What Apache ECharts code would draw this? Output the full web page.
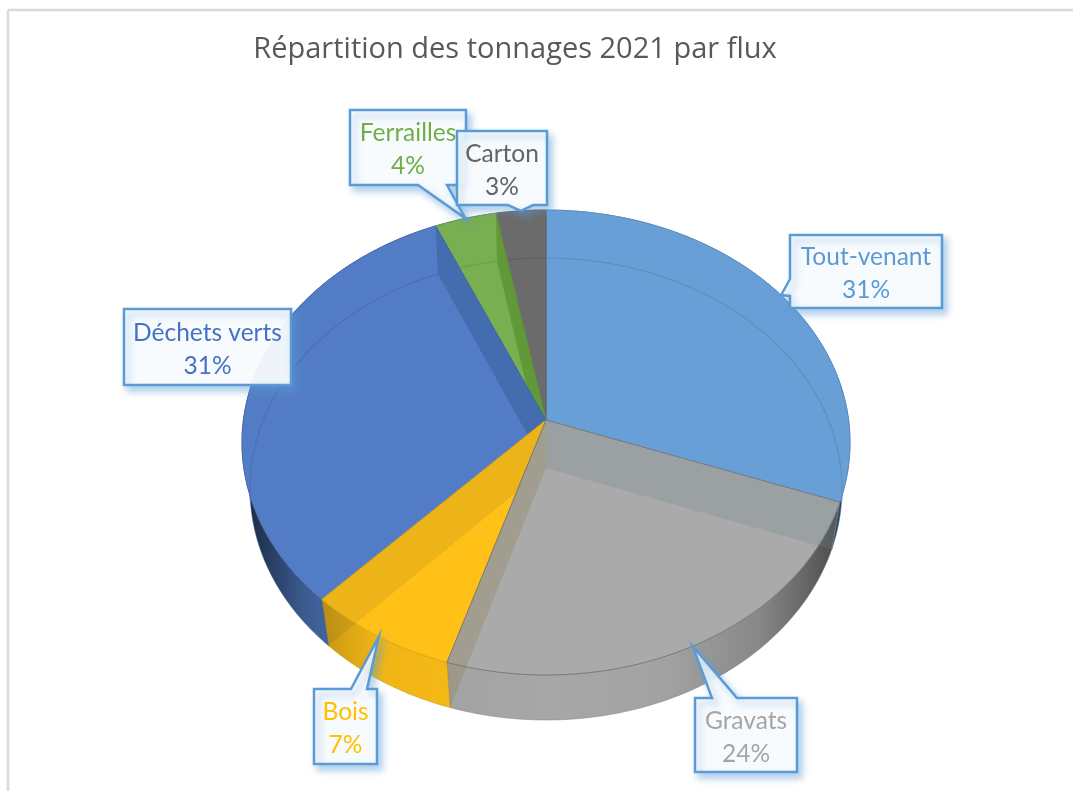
<!DOCTYPE html>
<html>
<head>
<meta charset="utf-8">
<style>html,body{margin:0;padding:0;background:#fff}#c{width:1073px;height:791px}</style>
<script src="https://cdn.jsdelivr.net/npm/echarts@6/dist/echarts.min.js"></script>
</head>
<body>
<div id="c"></div>
<script>
// ---- data ----
const chartTitle = 'Répartition des tonnages 2021 par flux';
const categories = ['Tout-venant', 'Gravats', 'Bois', 'Déchets verts', 'Ferrailles', 'Carton'];
const tonnageShare = [30.6, 24.2, 7.3, 31.4, 3.6, 2.9];

// ---- styles ----
const faceColors = ['#689fd7', '#aaaaaa', '#ffc117', '#527dc6', '#78af50', '#6b6b6b'];
const labelColors = ['#5b9bd5', '#a5a5a5', '#ffc000', '#4472c4', '#70ad47', '#636363'];
const edgeShade = [0.9, 0.72, 0.88, 0.88, 0.88, 0.88];
// painter order of the slices, front ones last so they hide what lies behind
const paintOrder = [0, 5, 4, 3, 2, 1];
// radial walls seen through each transparent face: [boundary slice, tint]
const seenWalls = [
  [],
  [[1, 'rgba(110,130,142,0.25)'], [2, 'rgba(125,112,40,0.2)']],
  [[3, 'rgba(60,50,60,0.09)']],
  [[4, 'rgba(30,70,110,0.28)']],
  [[5, 'rgba(50,110,10,0.32)']],
  []
];

// ---- layout ----
const topDisc = { cx: 546, cy: 420, a: 302.6, b: 230.3, k: 0.0968 };
const bottomDisc = { cx: 546, cy: 468, a: 294.8, b: 229.1, k: 0.0909 };
const labelOrder = [0, 1, 2, 3, 4, 5];
const labelBoxes = [
  { x: 790, y: 235, w: 152, h: 73, side: 'left', from: 279, to: 296 },
  { x: 695, y: 698, w: 102, h: 74, side: 'top', from: 712, to: 737 },
  { x: 314, y: 689, w: 63, h: 75, side: 'top', from: 351, to: 367 },
  { x: 124, y: 309, w: 167, h: 76 },
  { x: 350, y: 110, w: 116, h: 75, side: 'bottom', from: 418, to: 447 },
  { x: 457, y: 131, w: 90, h: 74, side: 'bottom', from: 508, to: 533 }
];

// ---- geometry derived from the values ----
const total = tonnageShare.reduce((s, v) => s + v, 0);
const startAngles = [];
tonnageShare.reduce((acc, v, i) => { startAngles[i] = acc; return acc + v / total * 360; }, 0);
const endAngle = i => startAngles[i] + tonnageShare[i] / total * 360;

function project(disc, deg) {
  const t = deg * Math.PI / 180, u = Math.sin(t), v = Math.cos(t), w = 1 + disc.k * v;
  return [disc.cx + disc.a * u / w, disc.cy - disc.b * v / w];
}
function arc(disc, a0, a1) {
  const pts = [], n = Math.max(2, Math.ceil(Math.abs(a1 - a0)));
  for (let j = 0; j <= n; j++) pts.push(project(disc, a0 + (a1 - a0) * j / n));
  return pts;
}
function shade(hex, f) {
  const n = parseInt(hex.slice(1), 16);
  return 'rgb(' + [(n >> 16) & 255, (n >> 8) & 255, n & 255].map(c => Math.round(c * f)).join(',') + ')';
}
function wallFill(hex) {
  const stops = [[0, .32], [.03, .42], [.1, .72], [.22, .94], [.5, .98], [.7, .95], [.85, .8], [.92, .62], [1, .38]];
  return {
    type: 'linear', global: true, x: 242, y: 0, x2: 850, y2: 0,
    colorStops: stops.map(s => ({ offset: s[0], color: shade(hex, s[1]) }))
  };
}

function renderSlice(params) {
  const i = params.dataIndex, a0 = startAngles[i], a1 = endAngle(i);
  const order = paintOrder.indexOf(i), base = 10 + order * 4, color = faceColors[i];
  const children = [];
  // outer wall
  children.push({
    type: 'polygon', z2: 1,
    shape: { points: arc(topDisc, a0, a1).concat(arc(bottomDisc, a1, a0)) },
    style: { fill: wallFill(color), stroke: shade(color, .75), lineWidth: 0.5 }
  });
  // top face
  children.push({
    type: 'polygon', z2: base,
    shape: { points: [[topDisc.cx, topDisc.cy]].concat(arc(topDisc, a0, a1)) },
    style: { fill: color, stroke: shade(color, edgeShade[i]), lineWidth: 1 }
  });
  // radial walls seen through the face
  seenWalls[i].forEach(w => {
    const ang = startAngles[w[0]];
    children.push({
      type: 'polygon', z2: base + 1,
      shape: { points: [[topDisc.cx, topDisc.cy], project(topDisc, ang), project(bottomDisc, ang), [bottomDisc.cx, bottomDisc.cy]] },
      style: { fill: w[1] }
    });
  });
  // back rim of the lower disc seen through the face
  const rim = arc(bottomDisc, a0, a1).filter((p, j, all) => {
    const deg = a0 + (a1 - a0) * j / (all.length - 1);
    return Math.cos(deg * Math.PI / 180) > -0.15;
  });
  if (rim.length > 1) {
    children.push({
      type: 'polyline', z2: base + 2,
      shape: { points: rim },
      style: { fill: null, stroke: shade(color, .9), lineWidth: 1.2 }
    });
  }
  return { type: 'group', children };
}

function renderLabel(params) {
  const i = labelOrder[params.dataIndex], b = labelBoxes[i];
  const r = b.x + b.w, d = b.y + b.h;
  const tip = project(topDisc, (startAngles[i] + endAngle(i)) / 2);
  let pts;
  if (b.side === 'bottom') {
    pts = [[b.x, b.y], [r, b.y], [r, d], [b.to, d], tip, [b.from, d], [b.x, d]];
  } else if (b.side === 'top') {
    pts = [[b.x, b.y], [b.from, b.y], tip, [b.to, b.y], [r, b.y], [r, d], [b.x, d]];
  } else if (b.side === 'left') {
    pts = [[b.x, b.y], [r, b.y], [r, d], [b.x, d], [b.x, b.to], tip, [b.x, b.from]];
  } else {
    pts = [[b.x, b.y], [r, b.y], [r, d], [b.x, d]];
  }
  const pct = Math.round(tonnageShare[i] / total * 100);
  return {
    type: 'group',
    children: [
      {
        type: 'polygon', z2: 100 + params.dataIndex * 2,
        shape: { points: pts },
        style: {
          fill: 'rgba(255,255,255,0.9)', stroke: '#5b9bd5', lineWidth: 2.5, lineJoin: 'miter',
          shadowBlur: 7, shadowColor: 'rgba(91,155,213,0.5)', shadowOffsetX: 4, shadowOffsetY: 5
        }
      },
      {
        type: 'text', z2: 101 + params.dataIndex * 2,
        x: b.x + b.w / 2, y: b.y + b.h / 2 + 2.5,
        style: {
          text: categories[i] + '\n' + pct + '%',
          fill: labelColors[i], font: '24.5px Lato, Carlito, sans-serif',
          align: 'center', verticalAlign: 'middle', lineHeight: 33
        }
      }
    ]
  };
}

const chart = echarts.init(document.getElementById('c'), null, { renderer: 'canvas' });
chart.setOption({
  animation: false,
  backgroundColor: '#ffffff',
  title: {
    text: chartTitle, left: 510, top: 30, textAlign: 'center',
    textStyle: { color: '#595959', fontFamily: 'Open Sans', fontWeight: 'normal', fontSize: 29 }
  },
  graphic: [
    { type: 'line', shape: { x1: 8, y1: 10, x2: 1073, y2: 10 }, style: { stroke: '#d9d9d9', lineWidth: 2.5 } },
    { type: 'line', shape: { x1: 8, y1: 10, x2: 8, y2: 791 }, style: { stroke: '#d9d9d9', lineWidth: 2.5 } }
  ],
  series: [
    {
      type: 'custom', coordinateSystem: 'none', silent: true, z: 2,
      renderItem: renderSlice, clip: false,
      data: categories.map((c, i) => ({ name: c, value: tonnageShare[i] }))
    },
    {
      type: 'custom', coordinateSystem: 'none', silent: true, z: 3,
      renderItem: renderLabel, clip: false,
      data: labelOrder.map(i => ({ name: categories[i], value: tonnageShare[i] }))
    }
  ]
});
</script>
</body>
</html>
